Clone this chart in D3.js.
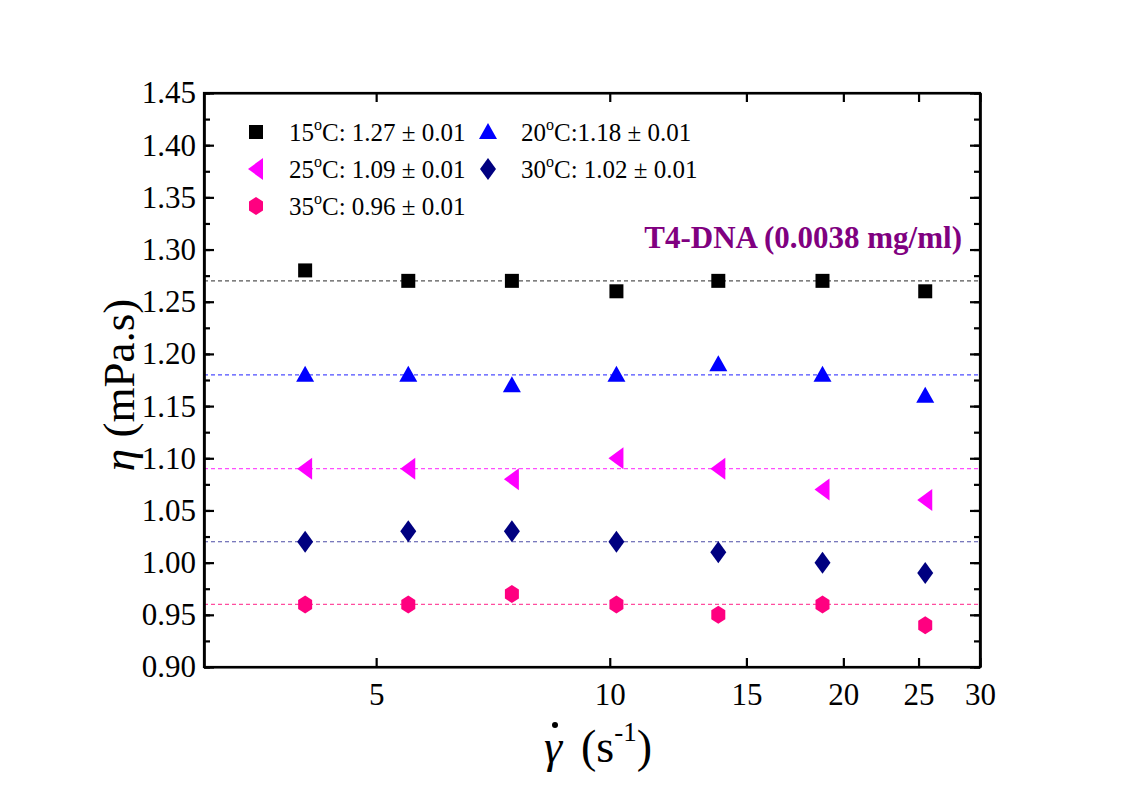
<!DOCTYPE html>
<html><head><meta charset="utf-8">
<script src="https://cdn.jsdelivr.net/npm/d3@7/dist/d3.min.js"></script>
<style>body{margin:0;background:#fff;} svg{display:block;} svg text{font-family:"Liberation Serif","Times New Roman",serif;}</style>
</head><body><svg id="c" width="1139" height="800"></svg>
<script>
const shearRates = [4.05, 5.5, 7.48, 10.2, 13.8, 18.8, 25.5];
const s15 = [1.28, 1.27, 1.27, 1.26, 1.27, 1.27, 1.26];
const s20 = [1.18, 1.18, 1.17, 1.18, 1.19, 1.18, 1.16];
const s25 = [1.09, 1.09, 1.08, 1.10, 1.09, 1.07, 1.06];
const s30 = [1.02, 1.03, 1.03, 1.02, 1.01, 1.00, 0.99];
const s35 = [0.96, 0.96, 0.97, 0.96, 0.95, 0.96, 0.94];
const temps = ["15", "20", "25", "30", "35"];
const legendTails = ["C: 1.27 \u00B1 0.01", "C:1.18 \u00B1 0.01", "C: 1.09 \u00B1 0.01", "C: 1.02 \u00B1 0.01", "C: 0.96 \u00B1 0.01"];
const means = [1.27, 1.18, 1.09, 1.02, 0.96];
const xTicks = [5, 10, 15, 20, 25, 30];
const yTicks = [0.90, 0.95, 1.00, 1.05, 1.10, 1.15, 1.20, 1.25, 1.30, 1.35, 1.40, 1.45];
const annotation = "T4-DNA (0.0038 mg/ml)";

const seriesVals = [s15, s20, s25, s30, s35];
const markerColors = ["#000000", "#0000ff", "#ff00ff", "#000080", "#ff0080"];
const lineColors = ["#555555", "#4d4dff", "#ff4dff", "#4d4da6", "#ff4d9f"];
const shapes = ["square", "triangle", "leftTriangle", "diamond", "hexagon"];

const svg = d3.select("#c");
const L = 204, R = 980, T = 93, B = 667;
const x = d3.scaleLog().domain([3, 30]).range([L, R]);
const y = d3.scaleLinear().domain([0.90, 1.45]).range([B, T]);

function shapePath(kind) {
  switch (kind) {
    case "square": return "M-7,-7H7V7H-7Z";
    case "triangle": return "M0,-9L9,7L-9,7Z";
    case "leftTriangle": return "M-8,0L7,-11L7,11Z";
    case "diamond": return "M0,-11L8,0L0,11L-8,0Z";
    case "hexagon": return "M0,-9L7,-4.5L7,4.5L0,9L-7,4.5L-7,-4.5Z";
  }
}

// reference dashed lines
const g = svg.append("g");
means.forEach((m, i) => {
  g.append("line").attr("x1", L).attr("x2", R).attr("y1", y(m)).attr("y2", y(m))
    .attr("stroke", lineColors[i]).attr("stroke-width", 1.2).attr("stroke-dasharray", "4,3");
});

// markers
seriesVals.forEach((vals, i) => {
  g.selectAll(null).data(vals.map((v, j) => [shearRates[j], v])).enter().append("path")
    .attr("d", shapePath(shapes[i]))
    .attr("transform", d => `translate(${x(d[0])},${y(d[1])})`)
    .attr("fill", markerColors[i]);
});

// axes
const axBottom = d3.axisBottom(x).tickValues(xTicks).tickFormat(d3.format("d")).tickSizeInner(-9).tickSizeOuter(0).tickPadding(16);
const axTop = d3.axisTop(x).tickValues(xTicks).tickFormat("").tickSizeInner(-9).tickSizeOuter(0);
const yMinor = d3.range(0, 23).map(k => 0.90 + k * 0.025);
const axLeft = d3.axisLeft(y).tickValues(yTicks).tickFormat(d3.format(".2f")).tickSizeInner(-10).tickSizeOuter(0).tickPadding(8);
const axRight = d3.axisRight(y).tickValues(yTicks).tickFormat("").tickSizeInner(-10).tickSizeOuter(0);
const axLeftMin = d3.axisLeft(y).tickValues(yMinor).tickFormat("").tickSizeInner(-6).tickSizeOuter(0);
const axRightMin = d3.axisRight(y).tickValues(yMinor).tickFormat("").tickSizeInner(-6).tickSizeOuter(0);

function styleAxis(sel) {
  sel.attr("font-family", null).attr("font-size", null);
  sel.selectAll("path").attr("stroke", "#000").attr("stroke-width", 2.2);
  sel.selectAll("line").attr("stroke", "#000").attr("stroke-width", 2.2);
  sel.selectAll("text").style("font-size", "31px").style("fill", "#000")
    .style("font-family", "'Liberation Serif', 'Times New Roman', serif");
}
styleAxis(svg.append("g").attr("transform", `translate(0,${B})`).call(axBottom));
styleAxis(svg.append("g").attr("transform", `translate(0,${T})`).call(axTop));
styleAxis(svg.append("g").attr("transform", `translate(${L},0)`).call(axLeftMin));
styleAxis(svg.append("g").attr("transform", `translate(${R},0)`).call(axRightMin));
styleAxis(svg.append("g").attr("transform", `translate(${L},0)`).call(axLeft));
styleAxis(svg.append("g").attr("transform", `translate(${R},0)`).call(axRight));
svg.append("rect").attr("x", L).attr("y", T).attr("width", R - L).attr("height", B - T)
  .attr("fill", "none").attr("stroke", "#000").attr("stroke-width", 2.2);

// legend
const legPos = [[256, 132], [488, 132], [256, 169], [488, 169], [256, 206]];
temps.forEach((t, i) => {
  const [lx, ly] = legPos[i];
  svg.append("path").attr("d", shapePath(shapes[i])).attr("transform", `translate(${lx},${ly})`).attr("fill", markerColors[i]);
  const tx = svg.append("text").attr("x", lx + 33).attr("y", ly + 9).style("font-size", "25px").attr("fill", "#000");
  tx.append("tspan").text(t);
  tx.append("tspan").attr("dy", -11).style("font-size", "16px").text("o");
  tx.append("tspan").attr("dy", 11).text(legendTails[i]);
});

// annotation
svg.append("text").attr("x", 962).attr("y", 248).attr("text-anchor", "end")
  .style("font-size", "31px").attr("font-weight", "bold").attr("fill", "#800080").text(annotation);

// axis titles
const yl = svg.append("text").attr("transform", "translate(134,385) rotate(-90)")
  .attr("text-anchor", "middle").style("font-size", "45px").attr("fill", "#000");
yl.append("tspan").attr("font-style", "italic").text("\u03B7");
yl.append("tspan").text(" (mPa.s)");

// x title: gamma with a dot above, then (s^-1)
const gx = 553, gy = 762;
svg.append("text").attr("x", gx).attr("y", gy).attr("text-anchor", "middle")
  .style("font-size", "46px").attr("font-style", "italic").attr("fill", "#000").text("\u03B3");
svg.append("circle").attr("cx", gx + 2).attr("cy", gy - 37).attr("r", 3).attr("fill", "#000");
const xl = svg.append("text").attr("x", gx + 28).attr("y", gy)
  .style("font-size", "46px").attr("fill", "#000");
xl.append("tspan").text("(s");
xl.append("tspan").attr("dy", -21).style("font-size", "27px").text("-1");
xl.append("tspan").attr("dy", 21).text(")");
</script></body></html>
